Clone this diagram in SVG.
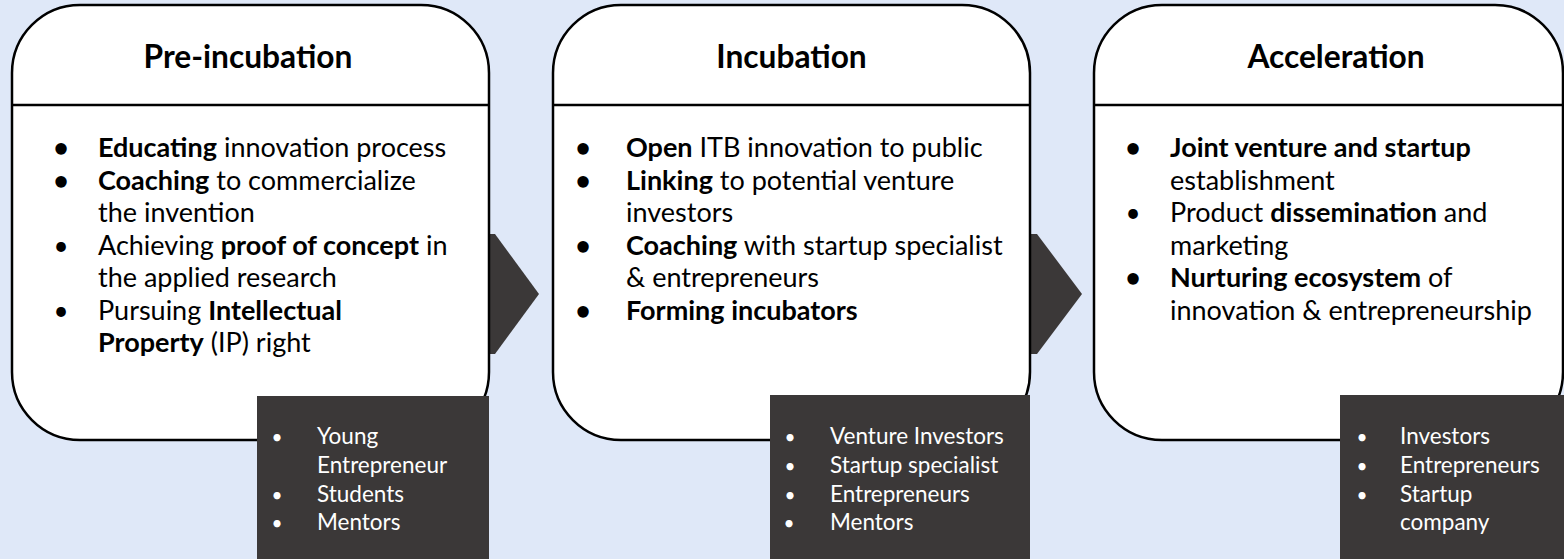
<svg xmlns="http://www.w3.org/2000/svg" width="1564" height="559" viewBox="0 0 1564 559">
<style>
.bg{fill:#dfe8f8}
.card{fill:#ffffff;stroke:#000000;stroke-width:2.5}
.hdr{stroke:#000000;stroke-width:2.5}
.chev{fill:#3b3838}
.dark{fill:#3b3838}
.title{font-family:Lato,"Noto Sans",sans-serif;font-weight:bold;font-size:31.7px;fill:#000;text-anchor:middle}
.body{font-family:Lato,"Noto Sans",sans-serif;font-size:27px;fill:#000}
.b{font-weight:bold}
.bul{font-family:Lato,"Noto Sans",sans-serif;font-size:26px;fill:#000;text-anchor:middle}
.dt{font-family:Lato,"Noto Sans",sans-serif;font-size:22.5px;fill:#ffffff}
.db{font-family:Lato,"Noto Sans",sans-serif;font-size:19px;fill:#ffffff;text-anchor:middle}
</style>
<rect class="bg" x="0" y="0" width="1564" height="559"/>
<g id="connectors">
<polygon class="chev" points="470,234 495,234 539,294 495,354 470,354"/>
<polygon class="chev" points="1010,234 1037,234 1082,294 1037,354 1010,354"/>
</g>
<g id="pre-incubation">
<rect class="card" x="12" y="5" width="477" height="435" rx="68" ry="68"/>
<line class="hdr" x1="12" y1="105" x2="489" y2="105"/>
<text class="title" x="248" y="68">Pre-incubation</text>
<text class="bul b" x="61" y="157">•</text>
<text class="body" x="98" y="157"><tspan class="b">Educating</tspan> innovation process</text>
<text class="bul b" x="61" y="189.5">•</text>
<text class="body" x="98" y="189.5"><tspan class="b">Coaching</tspan> to commercialize</text>
<text class="body" x="98" y="222">the invention</text>
<text class="bul" x="61" y="254.5">•</text>
<text class="body" x="98" y="254.5">Achieving <tspan class="b">proof of concept</tspan> in</text>
<text class="body" x="98" y="287">the applied research</text>
<text class="bul" x="61" y="319.5">•</text>
<text class="body" x="98" y="319.5">Pursuing <tspan class="b">Intellectual</tspan></text>
<text class="body" x="98" y="352"><tspan class="b">Property</tspan> (IP) right</text>
</g>
<g id="pre-incubation-actors">
<rect class="dark" x="257" y="396" width="232" height="163"/>
<text class="db" x="277" y="444">•</text>
<text class="dt" x="317" y="444">Young</text>
<text class="dt" x="317" y="473">Entrepreneur</text>
<text class="db" x="277" y="502">•</text>
<text class="dt" x="317" y="502">Students</text>
<text class="db" x="277" y="530">•</text>
<text class="dt" x="317" y="530">Mentors</text>
</g>
<g id="incubation">
<rect class="card" x="553" y="5" width="477" height="435" rx="68" ry="68"/>
<line class="hdr" x1="553" y1="105" x2="1030" y2="105"/>
<text class="title" x="791.5" y="68">Incubation</text>
<text class="bul b" x="583" y="157">•</text>
<text class="body" x="626" y="157"><tspan class="b">Open</tspan> ITB innovation to public</text>
<text class="bul b" x="583" y="189.5">•</text>
<text class="body" x="626" y="189.5"><tspan class="b">Linking</tspan> to potential venture</text>
<text class="body" x="626" y="222">investors</text>
<text class="bul b" x="583" y="254.5">•</text>
<text class="body" x="626" y="254.5"><tspan class="b">Coaching</tspan> with startup specialist</text>
<text class="body" x="626" y="287">&amp; entrepreneurs</text>
<text class="bul b" x="583" y="319.5">•</text>
<text class="body" x="626" y="319.5"><tspan class="b">Forming incubators</tspan></text>
</g>
<g id="incubation-actors">
<rect class="dark" x="770" y="395" width="260" height="164"/>
<text class="db" x="790" y="444">•</text>
<text class="dt" x="830" y="444">Venture Investors</text>
<text class="db" x="790" y="473">•</text>
<text class="dt" x="830" y="473">Startup specialist</text>
<text class="db" x="790" y="502">•</text>
<text class="dt" x="830" y="502">Entrepreneurs</text>
<text class="db" x="789" y="530">•</text>
<text class="dt" x="830" y="530">Mentors</text>
</g>
<g id="acceleration">
<rect class="card" x="1094" y="5" width="469" height="435" rx="68" ry="68"/>
<line class="hdr" x1="1094" y1="105" x2="1563" y2="105"/>
<text class="title" x="1336" y="68">Acceleration</text>
<text class="bul b" x="1133" y="157">•</text>
<text class="body" x="1170" y="157"><tspan class="b">Joint venture and startup</tspan></text>
<text class="body" x="1170" y="189.5">establishment</text>
<text class="bul" x="1133" y="222">•</text>
<text class="body" x="1170" y="222">Product <tspan class="b">dissemination</tspan> and</text>
<text class="body" x="1170" y="254.5">marketing</text>
<text class="bul b" x="1133" y="287">•</text>
<text class="body" x="1170" y="287"><tspan class="b">Nurturing ecosystem</tspan> of</text>
<text class="body" x="1170" y="319.5">innovation &amp; entrepreneurship</text>
</g>
<g id="acceleration-actors">
<rect class="dark" x="1340" y="395" width="224" height="164"/>
<text class="db" x="1362" y="444">•</text>
<text class="dt" x="1400" y="444">Investors</text>
<text class="db" x="1362" y="473">•</text>
<text class="dt" x="1400" y="473">Entrepreneurs</text>
<text class="db" x="1362" y="502">•</text>
<text class="dt" x="1400" y="502">Startup</text>
<text class="dt" x="1400" y="530">company</text>
</g>
</svg>
